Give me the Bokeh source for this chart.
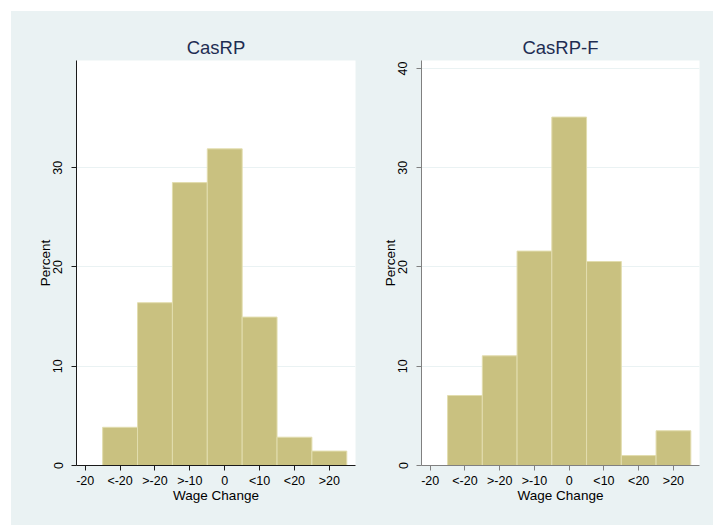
from bokeh.plotting import figure
from bokeh.layouts import row, column
from bokeh.models import Range1d, FixedTicker, Spacer, ColumnDataSource
from bokeh.embed import file_html
from bokeh.resources import INLINE

tick_pos = [0, 1, 2, 3, 4, 5, 6, 7]
tick_labels = ["-20", "<-20", ">-20", ">-10", "0", "<10", "<20", ">20"]
bar_pos = [1, 2, 3, 4, 5, 6, 7]
casrp = [3.85, 16.4, 28.5, 31.9, 14.95, 2.85, 1.45]
casrp_f = [7.05, 11.05, 21.6, 35.1, 20.55, 1.0, 3.5]

BG = "#EAF2F3"
FILL = "#C9C180"
EDGE = "#E2DDAE"
TITLE = "#1E2D52"
FONT = "Liberation Sans"


def make(title, vals, yticks, width, left_border, right_border, axis_color):
    p = figure(width=width, height=514, output_backend="svg", toolbar_location=None,
               x_range=Range1d(-0.25, 7.75), y_range=Range1d(0, 40.8),
               min_border_left=left_border, min_border_right=right_border,
               min_border_top=49, min_border_bottom=60)
    p.title.text = title
    p.title.align = "center"
    p.title.text_font = FONT
    p.title.text_font_size = "18.5px"
    p.title.text_font_style = "normal"
    p.title.text_color = TITLE
    p.title.standoff = 5
    p.background_fill_color = "white"
    p.border_fill_color = BG
    p.outline_line_color = None

    src = ColumnDataSource(dict(x=bar_pos, top=vals))
    p.vbar(x="x", top="top", bottom=0, width=1.0, source=src,
           fill_color=FILL, line_color=EDGE, line_width=1)

    p.xaxis.ticker = FixedTicker(ticks=tick_pos)
    p.xaxis.major_label_overrides = {t: l for t, l in zip(tick_pos, tick_labels)}
    p.yaxis.ticker = FixedTicker(ticks=yticks)
    p.xaxis.axis_label = "Wage Change"
    p.yaxis.axis_label = "Percent"
    p.yaxis.major_label_orientation = "vertical"
    for ax in (p.xaxis, p.yaxis):
        ax.axis_line_color = axis_color
        ax.major_tick_line_color = axis_color
        ax.major_tick_out = 5
        ax.major_tick_in = 0
        ax.minor_tick_line_color = None
        ax.major_label_text_font = FONT
        ax.major_label_text_font_size = "12.5px"
        ax.major_label_text_color = "black"
        ax.axis_label_text_font = FONT
        ax.axis_label_text_font_size = "13.5px"
        ax.axis_label_text_font_style = "normal"
        ax.axis_label_text_color = "black"
    p.xaxis.major_label_standoff = 3
    p.xaxis.axis_label_standoff = -3
    p.yaxis.major_label_standoff = 9
    p.yaxis.axis_label_standoff = -2
    p.xgrid.grid_line_color = None
    p.ygrid.grid_line_color = BG
    p.ygrid.grid_line_width = 1
    return p


p1 = make("CasRP", casrp, [0, 10, 20, 30], 366, 65, 22, "#1a1a1a")
p2 = make("CasRP-F", casrp_f, [0, 10, 20, 30, 40], 336, 44, 14, "#808080")

panels = row(p1, p2, spacing=0, styles={"background-color": BG})
layout = column(Spacer(height=11), row(Spacer(width=11), panels, spacing=0), spacing=0)

open("out.html", "w").write(file_html(layout, INLINE))
